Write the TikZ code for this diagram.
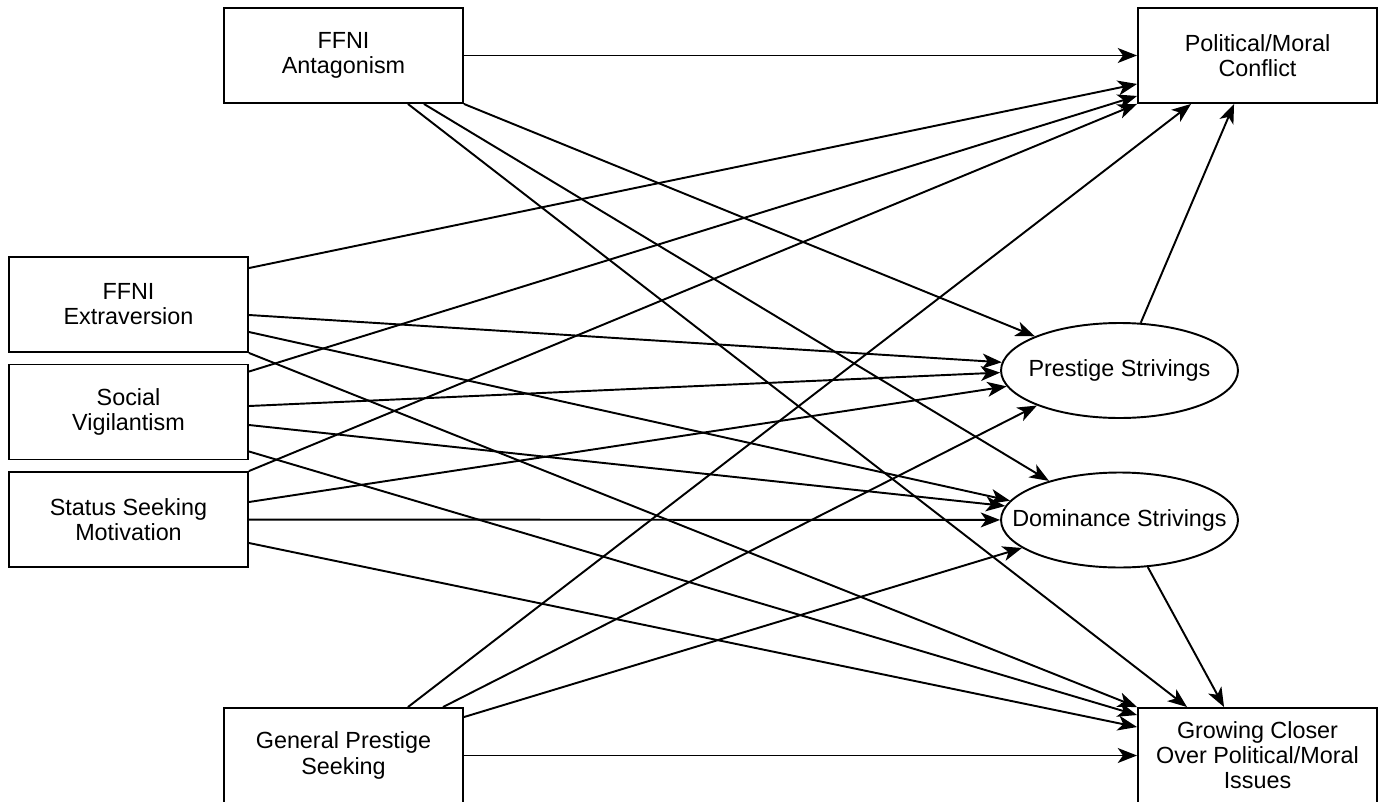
\documentclass[tikz,border=0pt]{standalone}
\usepackage{fontspec}
\setmainfont{Liberation Sans}
\usetikzlibrary{arrows.meta,shapes.geometric}

\begin{document}
\begin{tikzpicture}[->,>={Stealth[length=11pt,width=8.5pt,inset=3pt]},line width=1.1pt,
  x=0.02cm,y=-0.02cm,font=\fontsize{13.3}{14.3}\selectfont]

        \tikzstyle{measure}=[draw=black,fill=white,text=black,align=center,
          minimum width=4.78cm,minimum height=1.9cm,inner sep=0pt]
        \tikzstyle{latent}=[ellipse,draw=black,fill=white,text=black,
          minimum width=4.74cm,minimum height=1.9cm,inner sep=0pt]

        \useasboundingbox (0,0) rectangle (1385,801);

        \node[measure] (antag)  at (343.5,55.5)  {FFNI\\Antagonism};
        \node[measure] (conflict) at (1257.5,55.5) {Political/Moral\\Conflict};

        \node[measure] (extra)  at (128.5,304.5) {FFNI\\Extraversion};
        \node[measure] (vigil)  at (128.5,412)   {Social\\Vigilantism};
        \node[measure] (status) at (128.5,519.5) {Status Seeking\\Motivation};

        \node[latent]  (prest)  at (1119.5,370.5) {\makebox[0pt]{Prestige Strivings}};
        \node[latent]  (domin)  at (1119.5,520)   {\makebox[0pt]{Dominance Strivings}};

        \node[measure] (general) at (343.5,755.5)  {General Prestige\\Seeking};
        \node[measure] (closer)  at (1257.5,755.5) {Growing Closer\\Over Political/Moral\\Issues};

        \path
        % FFNI Antagonism
        (antag) edge (conflict)
        (antag.south east) edge (prest.158)
        ([xshift=-0.8cm]antag.south east) edge (domin.151)
        ([xshift=-1.12cm]antag.south east) edge ([xshift=1cm]closer.north west)

        % FFNI Extraversion
        ([yshift=-0.24cm]extra.north east) edge ([yshift=0.4cm]conflict.south west)
        ([yshift=-0.21cm]extra.east) edge (prest.176)
        ([yshift=-0.55cm]extra.east) edge (domin.170)
        (extra.south east) edge (closer.north west)

        % Social Vigilantism
        ([yshift=-0.16cm]vigil.north east) edge ([yshift=0.16cm]conflict.south west)
        ([yshift=0.12cm]vigil.east) edge (prest.181)
        ([yshift=-0.26cm]vigil.east) edge (domin.173)
        ([yshift=0.18cm]vigil.south east) edge ([yshift=-0.16cm]closer.north west)

        % Status Seeking Motivation
        (status.north east) edge (conflict.south west)
        ([yshift=0.35cm]status.east) edge (prest.188)
        (status) edge (domin)
        ([yshift=-0.47cm]status.east) edge ([yshift=-0.4cm]closer.north west)

        % General Prestige Seeking
        ([xshift=-1.12cm]general.north east) edge ([xshift=1.08cm]conflict.south west)
        ([xshift=-0.42cm]general.north east) edge (prest.203)
        ([yshift=-0.2cm]general.north east) edge (domin.196)
        (general) edge (closer)

        % strivings
        (prest.66) edge ([xshift=1.94cm]conflict.south west)
        (domin.301) edge ([xshift=1.74cm]closer.north west)
        ;
\end{tikzpicture}
\end{document}
